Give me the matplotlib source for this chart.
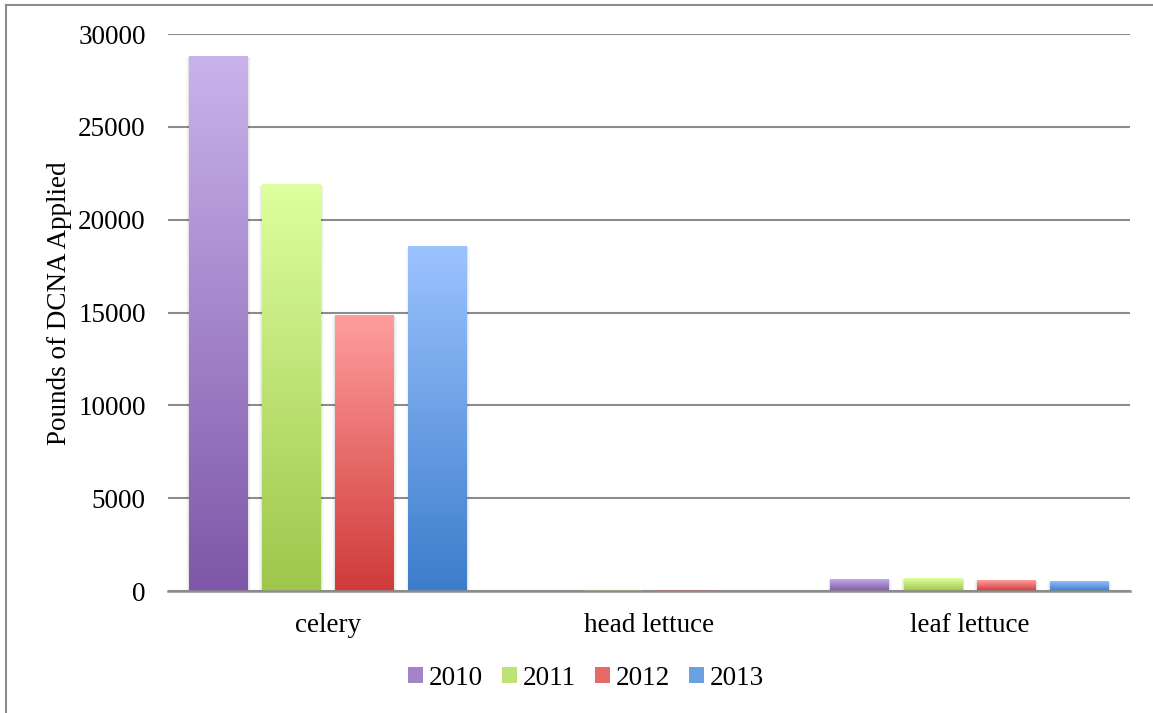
import numpy as np
import matplotlib
matplotlib.use("Agg")
import matplotlib.pyplot as plt
from matplotlib.colors import LinearSegmentedColormap
from matplotlib.lines import Line2D
from matplotlib.patches import Patch

categories = ["celery", "head lettuce", "leaf lettuce"]
years = ["2010", "2011", "2012", "2013"]
values = {
    "2010": [28800, 0, 650],
    "2011": [21900, 50, 700],
    "2012": [14850, 60, 590],
    "2013": [18600, 0, 540],
}
top_colors = ["#C9B3EC", "#DDFF9E", "#FF9E9E", "#9CC3FF"]
bottom_colors = ["#7E57A8", "#9EC64B", "#CF3B39", "#3C7DCB"]
mid_colors = ["#A384CA", "#BFE274", "#E86A68", "#6BA0E5"]

plt.rcParams['font.family'] = ['Liberation Serif', 'DejaVu Serif']

fig = plt.figure(figsize=(11.53, 7.13), dpi=100)
ax = fig.add_axes([0.1457, 0.1711, 0.8343, 0.7812])

x = np.arange(len(categories))
step = 0.228
width = 0.184
offsets = (np.arange(len(years)) - 1.5) * step

for i, yr in enumerate(years):
    cmap = LinearSegmentedColormap.from_list(yr, [bottom_colors[i], top_colors[i]])
    grad = np.linspace(0, 1, 256).reshape(-1, 1)
    bars = ax.bar(x + offsets[i], values[yr], width, color="none", edgecolor="none", zorder=3)
    for b in bars:
        h = b.get_height()
        if h <= 0:
            continue
        bx, bw = b.get_x(), b.get_width()
        # soft shadow around the bar
        for k, a in enumerate([0.05, 0.035, 0.02]):
            d = 0.003 * (k + 1)
            ax.add_patch(plt.Rectangle((bx - d, -50 * (k + 1)), bw + 2 * d, h + 20 * (k + 1),
                                       facecolor="black", edgecolor="none", alpha=a, zorder=2))
        im = ax.imshow(grad, cmap=cmap, origin="lower", aspect="auto",
                       extent=(bx, bx + bw, 0, h), zorder=3)
        im.set_clip_path(b)

ax.set_xlim(-0.5, 2.5)
ax.set_ylim(0, 30000)
ax.set_yticks(np.arange(0, 30001, 5000))
ax.set_xticks(x)
ax.set_xticklabels(categories)
ax.yaxis.grid(True, color="#8C8C8C", linewidth=1.5, zorder=1)
ax.set_axisbelow(True)
for s in ["top", "right", "left"]:
    ax.spines[s].set_visible(False)
ax.spines["bottom"].set_color("#8C8C8C")
ax.spines["bottom"].set_linewidth(1.8)
ax.spines["bottom"].set_zorder(4)
ax.tick_params(axis="y", length=0, labelsize=19.5, pad=16)
ax.tick_params(axis="x", length=0, labelsize=19.5, pad=16)
ax.set_ylabel("Pounds of DCNA Applied", fontsize=19.5)
ax.yaxis.set_label_coords(-0.1, 0.517)

handles = [Patch(facecolor=mid_colors[i], edgecolor="none") for i in range(len(years))]
fig.legend(handles, years, loc="center", bbox_to_anchor=(0.508, 0.049), ncol=4, frameon=False,
           fontsize=19.5, handlelength=0.55, handleheight=0.5, handletextpad=0.22, columnspacing=0.7)

fig.add_artist(Line2D([6 / 1153, 6 / 1153], [0, 1 - 5 / 713], color="#8C8C8C", linewidth=1.5))
fig.add_artist(Line2D([6 / 1153, 1], [1 - 5 / 713, 1 - 5 / 713], color="#8C8C8C", linewidth=1.5))

fig.savefig("out.png", dpi=100)
